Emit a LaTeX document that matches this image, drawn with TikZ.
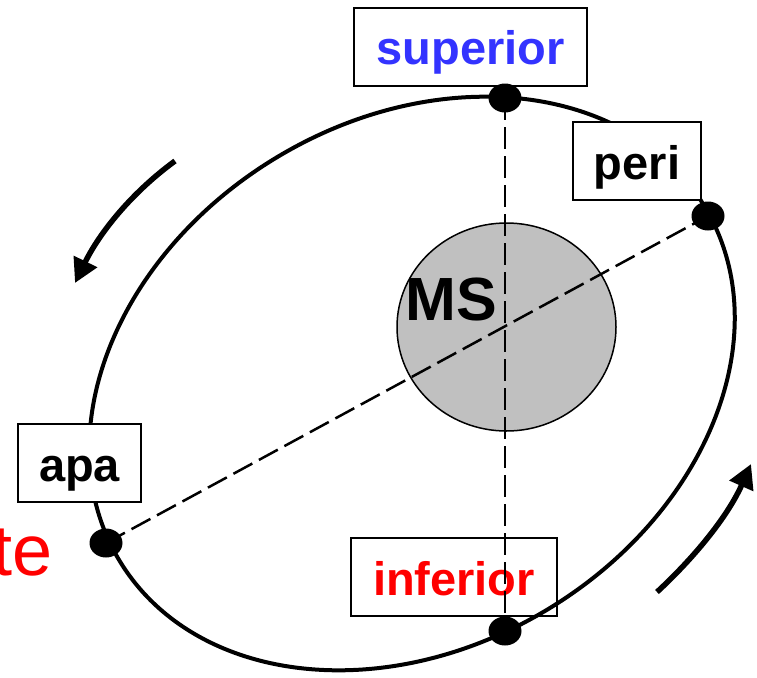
\documentclass[tikz,border=0pt]{standalone}
\usepackage{fontspec}
\setmainfont{Liberation Sans}
\usetikzlibrary{arrows.meta,shapes.geometric}
\pgfdeclarelayer{back}
\pgfdeclarelayer{mid}
\pgfsetlayers{back,mid,main}
\definecolor{supblue}{RGB}{51,51,255}
\definecolor{msgray}{RGB}{192,192,192}
\tikzset{
  lbl/.style={draw=black, line width=2pt, fill=white, inner sep=0pt,
    minimum height=78pt, text height=40pt, text depth=4pt,
    font=\fontsize{47}{50}\selectfont\bfseries},
  vdot/.style={ellipse, fill=black, inner sep=0pt, minimum width=33pt, minimum height=29pt},
  orbitline/.style={line width=4pt},
  apsline/.style={line width=2.5pt, dash pattern=on 21.5pt off 7.5pt},
  motion/.style={line width=5.5pt, -{Triangle[length=24pt,width=25pt]}},
}
\begin{document}
\begin{tikzpicture}[x=1pt,y=-1pt]
\useasboundingbox (0,0) rectangle (757,677);

\begin{pgfonlayer}{back}
  \draw[orbitline, rotate around={31.3:(412,383.5)}] (412,383.5) ellipse [x radius=342, y radius=263.5];
  \node[ellipse, draw=black, line width=1.5pt, fill=msgray, minimum width=219pt,
        minimum height=208pt, inner sep=0pt] (ms) at (506.5,327) {};
  \node[lbl, fill=none, text=red, minimum width=206pt] (infbox) at (454,577) {inferior};
\end{pgfonlayer}

\node[font=\fontsize{61}{61}\selectfont\bfseries, inner sep=0pt, anchor=base west] (mslbl) at (405,320) {MS};

\begin{scope}
  \clip (0,0) rectangle (757,677);
  \node[text=red, font=\fontsize{72}{72}\selectfont, inner sep=0pt, anchor=base west] (te) at (-8,575) {te};
\end{scope}

\node[lbl, text=supblue, minimum width=233pt] (supbox) at (470.5,47) {superior};
\node[lbl, minimum width=128pt] (peribox) at (637,161) {peri};
\node[lbl, minimum width=123pt] (apabox) at (79.5,463) {apa};

\node[vdot] (sup) at (505,98) {};
\node[vdot] (peri) at (708,216) {};
\node[vdot] (apa) at (106,543) {};
\node[vdot] (infdot) at (505,631) {};

\begin{pgfonlayer}{mid}
  \draw[apsline] (sup.center) -- (infdot.center);
  \draw[apsline] (apa.center) -- (peri.center);
\end{pgfonlayer}

\coordinate (a1s) at (175,161);
\coordinate (a1e) at (75,283);
\coordinate (a2s) at (657,592);
\coordinate (a2e) at (751,464);
\draw[motion] (a1s) .. controls (130.6,193.4) and (99.1,233.6) .. (a1e);
\draw[motion] (a2s) .. controls (697.3,554.6) and (728.7,514.3) .. (a2e);
\end{tikzpicture}
\end{document}
